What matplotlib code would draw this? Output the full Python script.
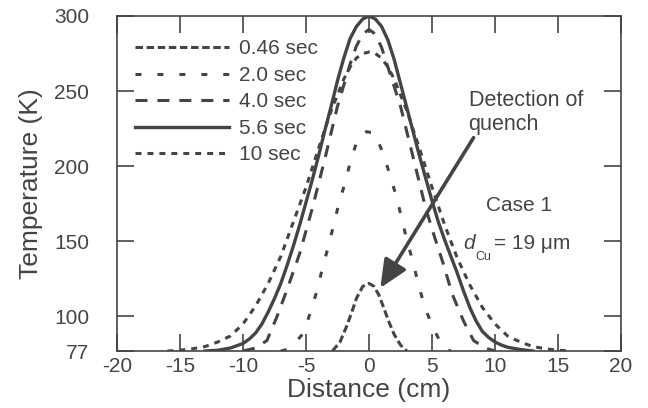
import matplotlib
matplotlib.use('Agg')
import matplotlib.pyplot as plt
from matplotlib.patches import ArrowStyle

plt.rcParams['font.family'] = ['Liberation Sans', 'DejaVu Sans']
plt.rcParams['lines.scale_dashes'] = False
plt.rcParams['axes.unicode_minus'] = False

gray = '#444444'

# temperature profiles (distance in cm, temperature in K)
x_046 = [-2.9, -2.3, -1.8, -1.4, -1.0, -0.5, 0.0, 0.4, 0.8, 1.2, 1.6, 2.0, 2.5, 3.0]
t_046 = [77, 83, 93, 102, 112, 120, 122, 120, 114, 105, 96, 88, 81, 77]

x_20 = [-7.0, -6.5, -6.0, -5.2, -4.6, -4.1, -3.7, -3.25, -2.8, -2.4, -1.9, -1.45, -0.9,
        -0.2, 0.45, 1.15, 1.7, 2.2, 2.6, 3.0, 3.5, 3.9, 4.4, 5.0, 5.9, 6.5]
t_20 = [77, 78, 81, 89, 104, 118, 132, 146, 161, 175, 189, 204, 218,
        223, 222, 208, 193, 179, 165, 151, 136, 122, 107, 94, 79, 77]

x_40 = [-10.0, -9.0, -8.1, -7.3, -6.5, -5.5, -4.5, -3.5, -2.5, -1.5, -1.0, -0.5, 0.0, 0.5,
        1.0, 1.5, 2.5, 3.5, 4.5, 5.2, 5.9, 6.6, 7.5, 8.3, 9.2, 10.0]
t_40 = [77, 79, 84, 100, 118, 142, 172, 205, 240, 268, 280, 288, 291, 288,
        279, 266, 240, 206, 172, 153, 135, 115, 97, 84, 79, 77]

x_56 = [-13, -12, -11, -10.5, -10, -9.5, -9, -8.5, -8, -7.5, -7, -6.5, -6, -5.5, -5, -4.5,
        -4, -3.5, -3, -2.5, -2, -1.5, -1, -0.5, 0, 0.5, 1, 1.5, 2, 2.5, 3, 3.5, 4, 4.5,
        5, 5.5, 6, 6.5, 7, 7.5, 8, 8.5, 9, 9.5, 10, 10.5, 11, 12, 13]
t_56 = [77, 77.5, 79, 80.5, 82, 85, 89, 95, 103, 112, 122, 134, 147, 161, 176, 191,
        207, 224, 240, 257, 272, 285, 293, 298, 300, 298, 293, 284, 271, 255, 239, 223, 207, 192,
        177, 163, 151, 140, 129, 117, 106, 97, 90, 86, 83, 81, 79.5, 78, 77]

x_10 = [-16, -15, -14, -13, -12, -11, -10, -9, -8, -7, -6, -5, -4, -3, -2, -1.5, -1, -0.5, 0,
        0.5, 1, 1.5, 2, 3, 4, 5, 6, 7, 8, 9, 10, 11, 12, 13, 14, 15, 16]
t_10 = [77, 77.5, 78.5, 80, 83, 87, 95, 107, 122, 140, 163, 186, 212, 237, 258, 266, 272, 275, 276,
        275, 272, 266, 258, 237, 212, 186, 161, 139, 121, 106, 95, 87, 83, 80, 78.5, 77.5, 77]

labels = ['0.46 sec', '2.0 sec', '4.0 sec', '5.6 sec', '10 sec']

fig = plt.figure(figsize=(6.48, 4.08), dpi=100)
ax = fig.add_axes([0.1806, 0.1397, 0.7777, 0.8211])

ax.plot(x_046, t_046, color=gray, lw=2.2, dashes=(5.4, 2.6), label=labels[0])
ax.plot(x_20, t_20, color=gray, lw=2.2, dashes=(4.3, 11.5), label=labels[1])
ax.plot(x_40, t_40, color=gray, lw=2.2, dashes=(8.6, 7.2), label=labels[2])
ax.plot(x_56, t_56, color=gray, lw=2.4, label=labels[3])
ax.plot(x_10, t_10, color=gray, lw=2.2, dashes=(4.3, 4.3), label=labels[4])

ax.set_xlim(-20, 20)
ax.set_ylim(77, 300)
ax.set_xticks(range(-20, 21, 5))
ax.set_yticks([77, 100, 150, 200, 250, 300])
ax.tick_params(direction='in', length=12, width=1.2, color=gray, labelcolor=gray,
               labelsize=15, top=True, right=True)
ax.tick_params(axis='y', pad=20)
ax.tick_params(axis='x', pad=4)
for s in ax.spines.values():
    s.set_color(gray)
    s.set_linewidth(1.2)

ax.set_xlabel('Distance (cm)', fontsize=19, color=gray, labelpad=2)
ax.set_ylabel('Temperature (K)', fontsize=19, color=gray, labelpad=8)

ax.legend(loc='upper left', bbox_to_anchor=(0.036, 0.93), frameon=False, fontsize=15,
          handlelength=4.5, handletextpad=0.5, labelspacing=0.36, borderpad=0,
          borderaxespad=0, labelcolor=gray)

ax.text(7.9, 240, 'Detection of', fontsize=15.5, color=gray, va='baseline')
ax.text(7.9, 224, 'quench', fontsize=15.5, color=gray, va='baseline')
ax.annotate('', xy=(0.9, 119), xytext=(8.3, 219),
            arrowprops=dict(arrowstyle=ArrowStyle('-|>', head_length=1.0, head_width=0.45),
                            lw=2.6, color=gray, mutation_scale=17, shrinkA=0, shrinkB=0))

ax.text(9.25, 174, 'Case 1', fontsize=15, color=gray, va='center')
ax.text(7.5, 148.7, 'd', fontsize=15, color=gray, va='center', style='italic')
ax.text(8.45, 139.3, 'Cu', fontsize=9, color=gray, va='center')
ax.text(9.9, 148.7, '= 19 \u03bcm', fontsize=15, color=gray, va='center')

fig.savefig('out.png', dpi=100)
